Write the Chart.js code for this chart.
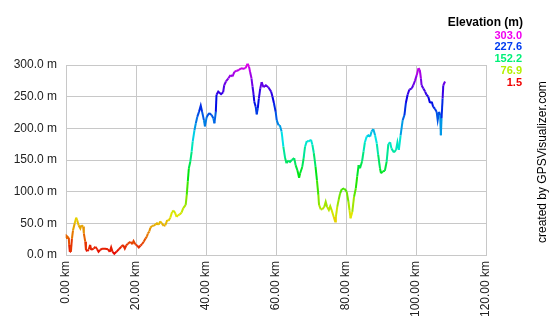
<!DOCTYPE html>
<html>
<head>
<meta charset="utf-8">
<script src="https://cdn.jsdelivr.net/npm/chart.js@4.4.1/dist/chart.umd.min.js"></script>
<style>
  html, body { margin: 0; padding: 0; background: #fff; }
  #wrap { width: 550px; height: 320px; position: relative; }
</style>
</head>
<body>
<div id="wrap"><canvas id="elevChart" width="550" height="320"></canvas></div>
<script>
// distance along the track (km) and elevation (m)
const distKm = [
  0.0, 0.2, 0.8, 0.9, 1.1, 1.4, 1.7, 2.0, 2.5, 2.9, 3.2, 3.6, 4.1, 4.4, 4.9, 5.1, 5.5, 5.7, 6.1, 6.5,
  6.9, 7.2, 7.9, 8.4, 8.9, 9.3, 9.8, 10.3, 11.2, 12.0, 12.5, 12.9, 13.3, 13.8, 14.4, 15.1, 15.8, 16.3, 16.8, 17.2,
  17.7, 18.4, 18.9, 19.3, 19.8, 20.3, 20.8, 21.3, 21.7, 22.2, 22.7, 23.1, 23.4, 23.8, 24.1, 24.6, 25.1, 25.5, 26.0, 26.5,
  26.9, 27.4, 27.9, 28.4, 28.9, 29.3, 29.8, 30.3, 30.8, 31.2, 31.6, 32.0, 32.5, 33.0, 33.5, 34.2, 34.5, 34.8, 35.1, 35.5,
  35.9, 36.2, 36.7, 37.1, 37.5, 38.0, 38.5, 38.9, 39.4, 39.7, 40.2, 40.9, 41.6, 42.1, 42.4, 42.8, 43.0, 43.5, 44.3, 44.9,
  45.2, 45.7, 46.4, 47.0, 47.6, 48.1, 48.8, 49.4, 50.0, 50.7, 51.3, 51.9, 52.3, 52.6, 53.0, 53.3, 53.6, 53.8, 54.2, 54.5,
  54.8, 55.1, 55.5, 55.9, 56.4, 57.1, 57.8, 58.6, 59.0, 59.4, 59.9, 60.2, 60.7, 61.1, 61.6, 62.1, 62.6, 63.0, 63.5, 64.0,
  64.5, 65.2, 65.6, 66.1, 66.6, 66.9, 67.5, 67.9, 68.3, 68.8, 69.2, 70.0, 70.4, 70.8, 71.3, 71.7, 72.1, 72.3, 72.8, 73.2,
  73.8, 74.2, 74.6, 75.1, 75.5, 75.9, 76.5, 76.9, 77.1, 77.5, 77.9, 78.3, 78.8, 79.5, 80.2, 80.7, 81.0, 81.3, 81.8, 82.3,
  82.8, 83.2, 83.6, 84.0, 84.6, 85.0, 85.4, 85.9, 86.4, 86.9, 87.3, 87.8, 88.3, 88.8, 89.2, 89.7, 90.0, 90.5, 91.1, 91.6,
  92.1, 92.6, 93.0, 93.7, 94.3, 94.7, 95.1, 95.6, 96.2, 96.7, 97.1, 97.6, 98.1, 98.8, 99.2, 99.7, 100.2, 100.7, 101.1, 101.4,
  101.6, 102.1, 102.6, 103.0, 103.5, 104.0, 104.5, 104.9, 105.4, 105.9, 106.2, 106.6, 106.9, 107.1, 107.3, 107.6, 107.8, 108.3
];
const elevM = [
  27, 30, 27, 16, 5, 5, 26, 39, 50, 59, 55, 47, 42, 47, 45, 34, 21, 8, 6, 9,
  16, 8, 10, 13, 9, 5, 8, 10, 10, 9, 5, 12, 5, 2, 5, 9, 13, 16, 10, 15,
  18, 21, 17, 22, 17, 15, 12, 15, 17, 21, 26, 29, 34, 37, 43, 46, 46, 48, 50, 48,
  53, 50, 46, 47, 55, 54, 59, 68, 70, 66, 60, 63, 64, 67, 74, 79, 95, 116, 137, 147,
  163, 179, 197, 208, 218, 226, 236, 226, 213, 203, 218, 224, 221, 216, 208, 226, 253, 258, 254, 257,
  268, 274, 279, 284, 282, 289, 291, 292, 295, 294, 295, 302, 297, 289, 279, 266, 253, 242, 234, 222,
  232, 247, 263, 273, 265, 268, 265, 258, 250, 240, 226, 213, 205, 205, 195, 171, 153, 145, 149, 147,
  150, 153, 142, 134, 122, 129, 139, 153, 171, 180, 179, 182, 174, 161, 139, 118, 95, 79, 72, 72,
  76, 84, 76, 71, 77, 71, 60, 53, 60, 76, 87, 97, 104, 105, 100, 84, 71, 58, 68, 92,
  105, 124, 142, 137, 148, 163, 178, 187, 189, 187, 195, 199, 189, 176, 158, 137, 129, 132, 133, 147,
  175, 178, 168, 162, 166, 178, 166, 189, 213, 221, 240, 253, 261, 263, 268, 275, 284, 295, 292, 279,
  268, 263, 258, 253, 250, 240, 242, 234, 231, 226, 213, 226, 221, 189, 216, 247, 268, 274
];

// x ticks every 20 km, y ticks every 50 m
const xTicks = [0, 20, 40, 60, 80, 100, 120];
const yTicks = [0, 50, 100, 150, 200, 250, 300];

// colour scale legend (top right)
const legendTitle = 'Elevation (m)';
const legendValues = [303.0, 227.6, 152.2, 76.9, 1.5];
const creditText = 'created by GPSVisualizer.com';

const elevMin = 1.5, elevMax = 303.0;

// red -> yellow -> green -> blue -> magenta, by elevation
function elevColor(e, light) {
  let t = (e - elevMin) / (elevMax - elevMin);
  t = Math.max(0, Math.min(1, t));
  return `hsl(${Math.round(t * 300)}, 100%, ${light}%)`;
}

const points = distKm.map((d, i) => ({ x: d, y: elevM[i] }));
const font = "'Liberation Sans', Arial, sans-serif";

// legend + credit drawn on top of the chart
const sidePlugin = {
  id: 'sideText',
  afterDraw(chart) {
    const c = chart.ctx;
    c.save();
    c.textAlign = 'right';
    c.textBaseline = 'alphabetic';
    c.fillStyle = '#000';
    c.font = 'bold 12px ' + font;
    c.fillText(legendTitle, 523, 26);
    c.font = 'bold 11px ' + font;
    legendValues.forEach((v, i) => {
      c.fillStyle = elevColor(v, 47);
      c.fillText(v.toFixed(1), 522, 38.5 + i * 11.8);
    });
    // vertical credit
    c.translate(543, 243);
    c.rotate(-Math.PI / 2);
    c.textAlign = 'left';
    c.textBaseline = 'middle';
    c.fillStyle = '#000';
    c.font = '12px ' + font;
    c.fillText(creditText, 0, 0);
    c.restore();
  }
};

const ctx = document.getElementById('elevChart');
new Chart(ctx, {
  type: 'line',
  data: {
    datasets: [{
      label: 'Elevation',
      data: points,
      borderWidth: 2,
      pointRadius: 0,
      tension: 0,
      fill: false,
      clip: 4,
      borderColor: '#f00',
      segment: {
        borderColor: (s) => elevColor((s.p0.parsed.y + s.p1.parsed.y) / 2, 45)
      }
    }]
  },
  options: {
    responsive: false,
    animation: false,
    layout: { padding: { top: 65, right: 64, left: 0, bottom: 0 } },
    plugins: {
      legend: { display: false },
      tooltip: { enabled: false }
    },
    scales: {
      x: {
        type: 'linear',
        min: 0,
        max: 120,
        afterFit: (s) => { s.height = 65; },
        afterBuildTicks: (s) => { s.ticks = xTicks.map(v => ({ value: v })); },
        grid: { color: '#c8c8c8', lineWidth: 1, drawTicks: false },
        border: { color: '#c8c8c8' },
        ticks: {
          color: '#222',
          font: { family: font, size: 12 },
          padding: 6,
          minRotation: 90,
          maxRotation: 90,
          callback: (v) => v.toFixed(2) + ' km'
        }
      },
      y: {
        min: 0,
        max: 300,
        afterFit: (s) => { s.width = 66; },
        afterBuildTicks: (s) => { s.ticks = yTicks.map(v => ({ value: v })); },
        grid: { color: '#c8c8c8', lineWidth: 1, drawTicks: false },
        border: { color: '#c8c8c8' },
        ticks: {
          color: '#222',
          font: { family: font, size: 12 },
          padding: 9,
          callback: (v) => v.toFixed(1) + ' m'
        }
      }
    }
  },
  plugins: [sidePlugin]
});
</script>
</body>
</html>
